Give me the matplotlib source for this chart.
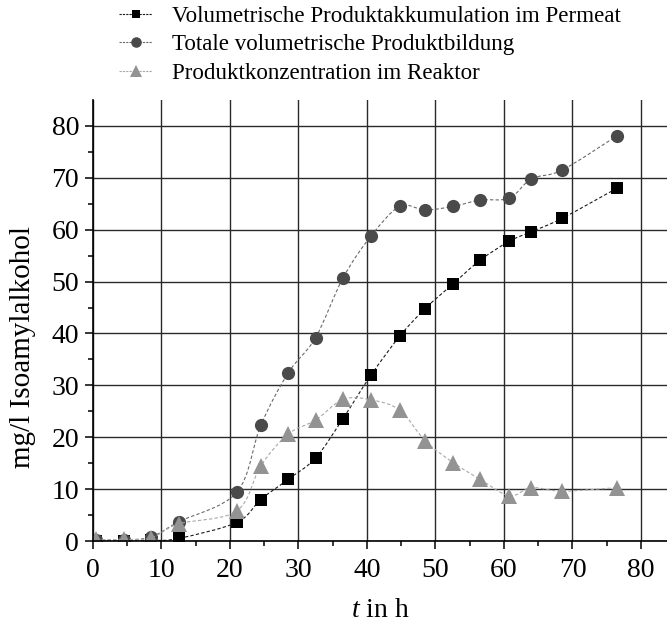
import numpy as np
import matplotlib
matplotlib.use("Agg")
import matplotlib.pyplot as plt
from matplotlib.path import Path
from matplotlib.patches import PathPatch
from matplotlib.legend_handler import HandlerLine2D
from matplotlib.lines import Line2D

plt.rcParams['font.family'] = ['Liberation Serif', 'DejaVu Serif']
plt.rcParams['mathtext.fontset'] = 'custom'
plt.rcParams['mathtext.rm'] = 'Liberation Serif'
plt.rcParams['mathtext.it'] = 'Liberation Serif:italic'

# Sampling times (h)
t = [0.5, 4.5, 8.5, 12.5, 21.0, 24.5, 28.5, 32.5, 36.5, 40.6, 44.8,
     48.5, 52.6, 56.5, 60.8, 64.0, 68.5, 76.5]

# Volumetric product accumulation in the permeate (mg/l)
permeat = [0.0, 0.0, 0.1, 0.5, 3.6, 8.0, 11.9, 16.0, 23.6, 32.0, 39.5,
           44.8, 49.6, 54.1, 57.8, 59.6, 62.2, 68.0]
# Total volumetric product formation (mg/l)
total = [0.2, 0.2, 0.8, 3.7, 9.4, 22.3, 32.4, 39.2, 50.7, 58.8, 64.5,
         63.8, 64.5, 65.7, 66.1, 69.8, 71.5, 78.1]
# Product concentration in the reactor (mg/l)
reaktor = [0.3, 0.3, 0.6, 3.3, 5.8, 14.5, 20.6, 23.3, 27.3, 27.2, 25.2,
           19.3, 15.1, 11.9, 8.7, 10.3, 9.6, 10.3]

labels = ["Volumetrische Produktakkumulation im Permeat",
          "Totale volumetrische Produktbildung",
          "Produktkonzentration im Reaktor"]


def smooth_path(x, y):
    """Catmull-Rom curve through the points, expressed as cubic Bezier segments."""
    x = np.asarray(x, float)
    y = np.asarray(y, float)
    p = np.column_stack([x, y])
    verts = [p[0]]
    codes = [Path.MOVETO]
    n = len(p)
    for i in range(n - 1):
        p0 = p[i - 1] if i > 0 else p[i]
        p1 = p[i]
        p2 = p[i + 1]
        p3 = p[i + 2] if i + 2 < n else p[i + 1]
        c1 = p1 + (p2 - p0) / 6.0
        c2 = p2 - (p3 - p1) / 6.0
        verts += [c1, c2, p2]
        codes += [Path.CURVE4] * 3
    return Path(verts, codes)


class MarkerLeftHandler(HandlerLine2D):
    def get_xdata(self, legend, xdescent, ydescent, width, height, fontsize):
        xdata = np.array([-xdescent + 0.35 * width, -xdescent + width])
        xdata_marker = np.array([-xdescent + 0.08 * width])
        return xdata, xdata_marker


fig = plt.figure(figsize=(6.67, 6.23), dpi=100)
ax = fig.add_axes([0.1394, 0.1316, 0.8606, 0.7079])

series = [
    (permeat, 's', '#000000', '#1a1a1a', 8),
    (total, 'o', '#4a4a4a', '#6a6a6a', 9.5),
    (reaktor, '^', '#939393', '#a8a8a8', 11.5),
]

handles = []
for z, (vals, mk, mcol, lcol, ms) in enumerate(series):
    patch = PathPatch(smooth_path(t, vals), facecolor='none', edgecolor=lcol,
                      lw=0.8, linestyle=(0, (3, 2)), zorder=3 + 2 * z)
    ax.add_patch(patch)
    ax.plot(t, vals, linestyle='none', marker=mk, color=mcol, ms=ms,
            markeredgewidth=0, zorder=4 + 2 * z)
    handles.append(Line2D([], [], color=lcol, lw=0.8, linestyle=(0, (2, 1)),
                          marker=mk, markerfacecolor=mcol, markeredgewidth=0,
                          ms=ms * 0.8))

ax.set_xlim(0, 83.8)
ax.set_ylim(0, 85)
ax.set_xticks(np.arange(0, 81, 10))
ax.set_yticks(np.arange(0, 81, 10))
ax.set_xticks(np.arange(5, 84, 10), minor=True)
ax.set_yticks(np.arange(5, 85, 10), minor=True)
ax.grid(True, which='major', color='#2a2a2a', lw=1.0)
ax.set_axisbelow(True)

for s in ('top', 'right'):
    ax.spines[s].set_visible(False)
for s in ('left', 'bottom'):
    ax.spines[s].set_linewidth(1.2)
    ax.spines[s].set_zorder(10)

ax.tick_params(which='major', direction='out', length=6, width=1.1,
               labelsize=20, pad=4)
ax.tick_params(axis='x', which='major', pad=6)
ax.tick_params(which='minor', direction='out', length=3.5, width=1.1)

ax.set_ylabel("mg/l Isoamylalkohol", fontsize=21, labelpad=8)
ax.yaxis.set_label_coords(-0.1, 0.44)
ax.set_xlabel("$t$ in h", fontsize=20, labelpad=11)

fig.legend(handles, labels, loc='upper left', bbox_to_anchor=(0.138, 1.006),
           frameon=False, fontsize=16.6, handlelength=2.2, handletextpad=0.85,
           labelspacing=0.33, borderaxespad=0,
           handler_map={h: MarkerLeftHandler(numpoints=1) for h in handles})

fig.savefig("out.png", dpi=100)
